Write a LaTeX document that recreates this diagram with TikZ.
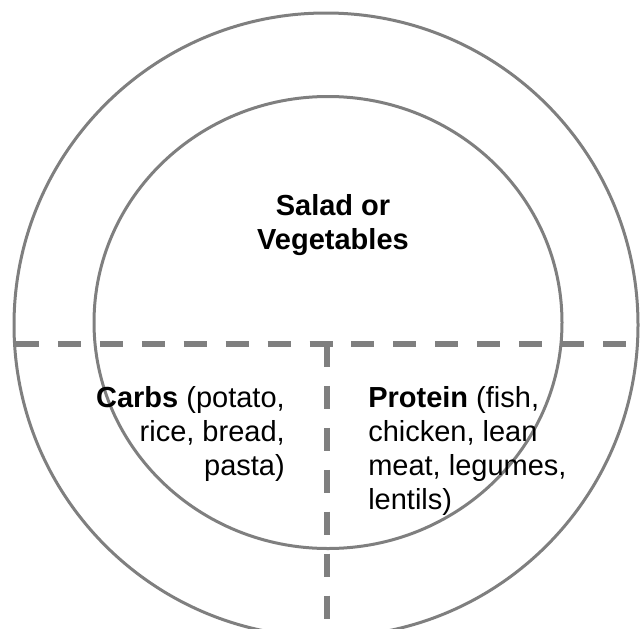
\documentclass[tikz,border=0pt]{standalone}
\usepackage{fontspec}
\setmainfont{Liberation Sans}
\definecolor{lineg}{RGB}{127,127,127}
\begin{document}
\begin{tikzpicture}[x=0.75pt,y=-0.75pt,
  ring/.style={draw=lineg,line width=2.25pt},
  divider/.style={draw=lineg,line width=4.5pt,dash pattern=on 17.25pt off 14.2pt},
  label/.style={inner sep=0pt,font=\fontsize{21.75}{25.5}\selectfont}]
\useasboundingbox (0,0) rectangle (642,628);
\path[ring] (326,325) circle [radius=312];
\path[ring] (328,322.5) ellipse [x radius=234,y radius=226];
\coordinate (hl) at (16,343.5);
\coordinate (hr) at (638,343.5);
\coordinate (vt) at (327,344);
\coordinate (vb) at (327,640);
\path[divider] (hl) -- (hr);
\path[divider] (vt) -- (vb);
\node[label,anchor=base] (salad) at (333,215)
  {\begin{tabular}[t]{@{}c@{}}\textbf{Salad or}\\\textbf{Vegetables}\end{tabular}};
\node[label,anchor=base east] (carbs) at (285,407)
  {\begin{tabular}[t]{@{}r@{}}\textbf{Carbs} (potato,\\rice, bread,\\pasta)\end{tabular}};
\node[label,anchor=base west] (protein) at (368,407)
  {\begin{tabular}[t]{@{}l@{}}\textbf{Protein} (fish,\\chicken, lean\\meat, legumes,\\lentils)\end{tabular}};
\end{tikzpicture}
\end{document}
